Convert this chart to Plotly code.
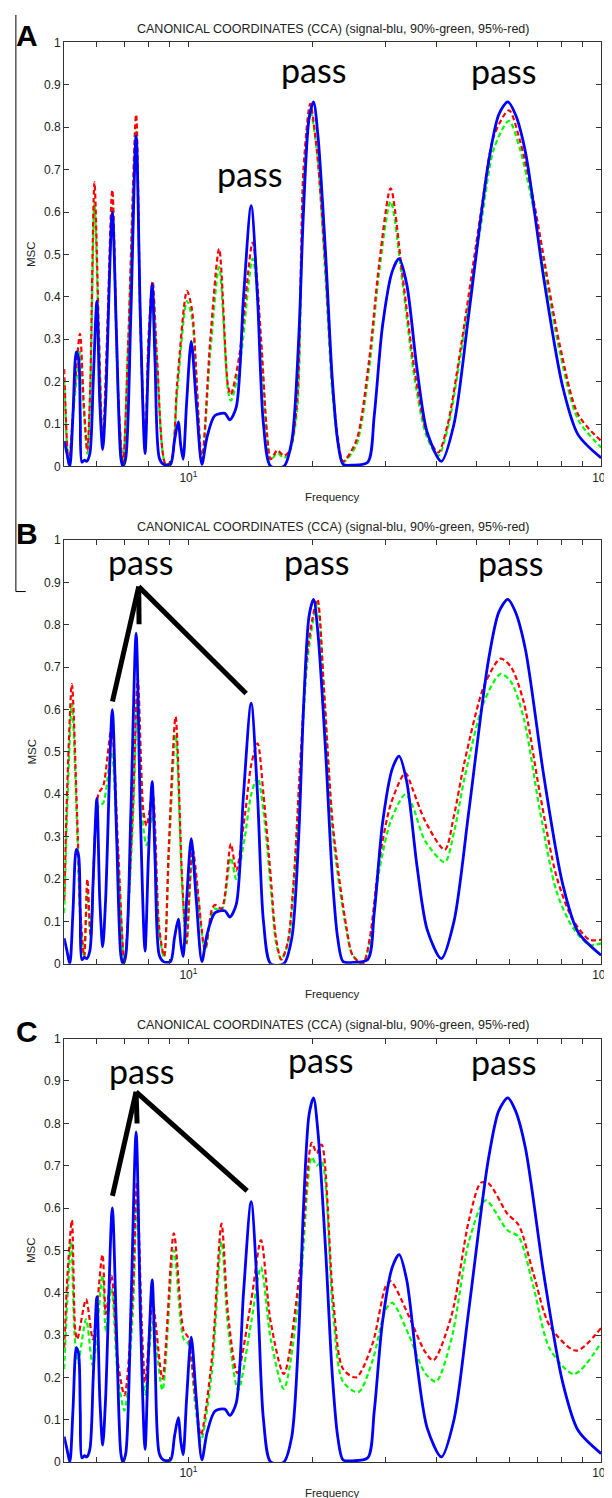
import plotly.graph_objects as go

W, H = 612, 1498

# signal (blue) - the same curve in all three panels
sig_f = [5.00, 5.08, 5.16, 5.25, 5.35, 5.42, 5.47, 5.52, 5.60, 5.67, 5.77, 5.88, 6.00, 6.10, 6.20,
         6.30, 6.54, 6.70, 6.86, 6.94, 7.05, 7.25, 7.47, 7.65, 7.85, 8.00, 8.17, 8.30, 8.50, 8.70,
         9.05, 9.25, 9.45, 9.58, 9.71, 9.90, 10.16, 10.45, 10.78, 11.1, 11.59, 12.25, 12.6, 13.06,
         13.6, 14.19, 14.7, 15.2, 15.83, 17.03, 17.8, 18.5, 19.0, 19.6, 20.1, 20.6, 21.5, 22.3,
         23.0, 23.7, 25.0, 27.2, 28.2, 29.52, 31.18, 32.4, 33.8, 35.8, 37.9, 41.0, 44.0, 47.8, 53.2,
         56.5, 59.4, 62.0, 65.6, 72.7, 80.6, 87.9, 100]
sig_v = [0.06, 0.03, 0.0, 0.12, 0.27, 0.255, 0.12, 0.01, 0.015, 0.012, 0.03, 0.2, 0.39, 0.15, 0.04,
         0.15, 0.60, 0.3, 0.02, 0.0, 0.02, 0.35, 0.78, 0.35, 0.03, 0.25, 0.43, 0.25, 0.02, 0.005,
         0.005, 0.06, 0.105, 0.05, 0.017, 0.15, 0.295, 0.15, 0.005, 0.07, 0.12, 0.125, 0.11, 0.14,
         0.4, 0.615, 0.4, 0.1, 0.0, 0.0, 0.06, 0.3, 0.6, 0.82, 0.86, 0.78, 0.5, 0.21,
         0.06, 0.005, 0.003, 0.01, 0.12, 0.33, 0.46, 0.49, 0.43, 0.23, 0.08, 0.012, 0.1, 0.36, 0.71,
         0.83, 0.86, 0.83, 0.74, 0.44, 0.19, 0.075, 0.02]

# panel A thresholds
a_red_f = [5.00, 5.13, 5.30, 5.46, 5.58, 5.69, 5.78, 5.92, 6.06, 6.20, 6.35, 6.54, 6.75, 6.94, 7.15,
           7.47, 7.65, 7.86, 8.00, 8.19, 8.40, 8.81, 9.06, 9.40, 9.92, 10.2, 10.78, 11.3, 11.87,
           12.47, 12.67, 13.28, 14.31, 15.0, 15.5, 15.83, 16.42, 17.03, 17.6, 18.33, 19.0, 19.73,
           20.5, 21.5, 22.3, 23.0, 23.7, 25.5, 27.4, 29.0, 30.9, 32.95, 35.4, 37.8, 40.3, 42.5,
           45.8, 51.15, 55.0, 59.8, 63.5, 68.5, 79.4, 88.0, 100]
a_red_v = [0.23, 0.005, 0.18, 0.313, 0.146, 0.037, 0.18, 0.67, 0.34, 0.056, 0.3, 0.652, 0.185, 0.005, 0.3,
           0.83, 0.34, 0.05, 0.3, 0.437, 0.25, 0.005, 0.01, 0.2, 0.414, 0.37, 0.017, 0.3, 0.513,
           0.19, 0.17, 0.26, 0.528, 0.3, 0.08, 0.017, 0.038, 0.025, 0.038, 0.15, 0.7, 0.855,
           0.74, 0.46, 0.2, 0.07, 0.012, 0.06, 0.25, 0.48, 0.656, 0.457, 0.22, 0.08, 0.033, 0.1,
           0.286, 0.6, 0.78, 0.84, 0.77, 0.63, 0.286, 0.122, 0.06]
a_grn_f = a_red_f
a_grn_v = [0.2, 0.005, 0.16, 0.27, 0.13, 0.03, 0.16, 0.62, 0.32, 0.05, 0.28, 0.61, 0.17, 0.005, 0.28,
           0.79, 0.32, 0.05, 0.28, 0.41, 0.23, 0.005, 0.01, 0.18, 0.39, 0.35, 0.015, 0.27, 0.47,
           0.18, 0.155, 0.23, 0.49, 0.28, 0.07, 0.015, 0.032, 0.02, 0.035, 0.13, 0.66, 0.84,
           0.74, 0.44, 0.18, 0.06, 0.01, 0.05, 0.23, 0.46, 0.625, 0.44, 0.2, 0.07, 0.025, 0.09,
           0.27, 0.57, 0.75, 0.815, 0.75, 0.61, 0.27, 0.11, 0.045]

# panel B thresholds
b_red_f = [5.00, 5.10, 5.22, 5.37, 5.47, 5.59, 5.69, 5.80, 6.05, 6.22, 6.51, 6.75, 7.00, 7.33, 7.54,
           7.78, 7.92, 8.19, 8.49, 8.73, 8.97, 9.31, 9.65, 9.89, 10.24, 10.97, 11.39, 11.59, 12.03,
           12.67, 13.06, 13.7, 14.2, 14.71, 15.2, 15.83, 16.3, 16.79, 17.4, 18.0, 18.67, 19.5,
           20.53, 21.3, 22.42, 24.13, 25.0, 26.45, 27.5, 29.0, 31.0, 33.55, 35.0, 37.45, 41.8,
           44.0, 46.7, 52.1, 57.09, 60.5, 64.9, 71.1, 78.0, 85.4, 93.6, 100]
b_red_v = [0.15, 0.45, 0.66, 0.36, 0.127, 0.018, 0.2, 0.065, 0.40, 0.42, 0.556, 0.28, 0.002, 0.36, 0.673,
           0.36, 0.326, 0.4, 0.088, 0.018, 0.283, 0.583, 0.205, 0.049, 0.27, 0.034, 0.127, 0.139, 0.13,
           0.283, 0.22, 0.35, 0.47, 0.52, 0.4, 0.205, 0.06, 0.01, 0.05, 0.2, 0.478, 0.75,
           0.86, 0.65, 0.32, 0.088, 0.02, 0.0, 0.06, 0.244, 0.38, 0.45, 0.41, 0.337, 0.269,
           0.35, 0.478, 0.657, 0.72, 0.7, 0.618, 0.4, 0.205, 0.104, 0.057, 0.057]
b_grn_f = b_red_f
b_grn_v = [0.12, 0.4, 0.614, 0.33, 0.11, 0.015, 0.17, 0.06, 0.37, 0.38, 0.50, 0.25, 0.002, 0.33, 0.63,
           0.32, 0.28, 0.35, 0.075, 0.015, 0.26, 0.54, 0.19, 0.045, 0.25, 0.03, 0.12, 0.13, 0.125,
           0.25, 0.2, 0.3, 0.4, 0.44, 0.36, 0.18, 0.05, 0.01, 0.045, 0.18, 0.45, 0.73,
           0.85, 0.64, 0.30, 0.08, 0.02, 0.0, 0.05, 0.22, 0.34, 0.40, 0.37, 0.29, 0.24,
           0.31, 0.44, 0.62, 0.684, 0.665, 0.58, 0.36, 0.17, 0.085, 0.045, 0.048]

# panel C thresholds
c_red_f = [5.00, 5.10, 5.22, 5.32, 5.38, 5.65, 5.87, 6.19, 6.31, 6.51, 6.75, 7.00, 7.33, 7.50, 7.72,
           7.86, 8.19, 8.65, 9.22, 9.74, 9.99, 10.38, 10.72, 11.39, 12.03, 12.47, 13.13, 14.19,
           14.99, 15.83, 17.03, 18.67, 19.9, 20.45, 21.03, 22.42, 23.69, 25.5, 27.94, 30.06, 30.9,
           34.2, 37.45, 39.2, 43.37, 47.8, 51.15, 53.5, 59.2, 63.1, 68.5, 75.14, 87.0, 100]
c_red_v = [0.27, 0.45, 0.571, 0.31, 0.29, 0.384, 0.29, 0.49, 0.35, 0.44, 0.235, 0.158, 0.39, 0.66, 0.31,
           0.19, 0.376, 0.197, 0.54, 0.31, 0.294, 0.158, 0.064, 0.24, 0.563, 0.35, 0.21, 0.38,
           0.524, 0.33, 0.208, 0.46, 0.754, 0.73, 0.75, 0.384, 0.22, 0.2, 0.28, 0.415, 0.427,
           0.345, 0.26, 0.24, 0.345, 0.57, 0.66, 0.657, 0.587, 0.56, 0.446, 0.321, 0.263, 0.317]
c_grn_f = [5.00, 5.10, 5.20, 5.30, 5.40, 5.65, 5.87, 6.19, 6.31, 6.51, 6.75, 7.00, 7.33, 7.50, 7.72,
           7.86, 8.19, 8.65, 9.22, 9.74, 9.99, 10.38, 10.72, 11.39, 12.03, 12.47, 13.2, 14.19,
           14.99, 15.83, 17.03, 18.67, 19.9, 20.45, 21.03, 22.42, 23.69, 25.8, 27.94, 30.06, 31.2,
           34.2, 37.45, 39.8, 43.37, 47.8, 52.5, 59.2, 63.1, 68.5, 75.14, 86.0, 100]
c_grn_v = [0.22, 0.4, 0.52, 0.3, 0.235, 0.337, 0.228, 0.44, 0.31, 0.41, 0.2, 0.122, 0.35, 0.61, 0.28,
           0.16, 0.33, 0.17, 0.5, 0.29, 0.28, 0.14, 0.05, 0.21, 0.52, 0.32, 0.17, 0.33,
           0.46, 0.29, 0.173, 0.42, 0.72, 0.70, 0.71, 0.35, 0.19, 0.165, 0.24, 0.36, 0.376,
           0.3, 0.21, 0.19, 0.29, 0.52, 0.618, 0.548, 0.532, 0.415, 0.267, 0.208, 0.282]

panels = [
    ("A", a_grn_f, a_grn_v, a_red_f, a_red_v),
    ("B", b_grn_f, b_grn_v, b_red_f, b_red_v),
    ("C", c_grn_f, c_grn_v, c_red_f, c_red_v),
]

title_txt = "CANONICAL COORDINATES (CCA) (signal-blu, 90%-green, 95%-red)"
x_ticks = [5, 6, 7, 8, 9, 10, 20, 30, 40, 50, 60, 70, 80, 90, 100]
x_text = ["10<sup>1</sup>" if t == 10 else "10<sup>2</sup>" if t == 100 else "" for t in x_ticks]
y_ticks = [i / 10 for i in range(11)]
y_text = ["0", "0.1", "0.2", "0.3", "0.4", "0.5", "0.6", "0.7", "0.8", "0.9", "1"]

# pixel boxes of the three plot areas (top, bottom)
boxes = [(27.7, 455.7), (530.0, 957.7), (1033.3, 1460.7)]
x_left, x_right = 57, 602


def px(x):
    return x / W


def py(y):
    return 1 - y / H


fig = go.Figure()
layout = dict(width=W, height=H, margin=dict(l=0, r=0, t=0, b=0),
              paper_bgcolor="white", plot_bgcolor="white", showlegend=False)
annotations = []
shapes = []
dash = "5px,3px"

for i, (letter, gf, gv, rf, rv) in enumerate(panels):
    n = "" if i == 0 else str(i + 1)
    xa, ya = "x" + n, "y" + n
    fig.add_trace(go.Scatter(x=gf, y=gv, xaxis=xa, yaxis=ya, mode="lines",
                             line=dict(color="#00ff00", width=2.2, dash=dash, shape="spline", smoothing=0.8)))
    fig.add_trace(go.Scatter(x=rf, y=rv, xaxis=xa, yaxis=ya, mode="lines",
                             line=dict(color="#ff0000", width=2.2, dash=dash, shape="spline", smoothing=0.8)))
    fig.add_trace(go.Scatter(x=sig_f, y=sig_v, xaxis=xa, yaxis=ya, mode="lines",
                             line=dict(color="#0000ff", width=2.8, shape="spline", smoothing=0.8)))
    top, bot = boxes[i]
    layout["xaxis" + n] = dict(
        type="log", range=[0.69897, 2], domain=[px(x_left), px(x_right)], anchor=ya,
        showline=True, mirror="ticks", linecolor="#333333", linewidth=1,
        ticks="inside", ticklen=5, tickcolor="#333333",
        tickvals=x_ticks, ticktext=x_text, showgrid=False, zeroline=False,
        tickfont=dict(family="Liberation Sans, Arial", size=12, color="#222222"))
    layout["yaxis" + n] = dict(
        range=[0, 1], domain=[py(bot), py(top)], anchor=xa,
        showline=True, mirror="ticks", linecolor="#333333", linewidth=1,
        ticks="inside", ticklen=5, tickcolor="#333333",
        tickvals=y_ticks, ticktext=y_text, showgrid=False, zeroline=False,
        tickfont=dict(family="Liberation Sans, Arial", size=12, color="#222222"))
    mid = (x_left + x_right) / 2
    annotations.append(dict(text=title_txt, x=px(mid), y=py(top - 13.5), xref="paper", yref="paper",
                            showarrow=False, xanchor="center", yanchor="middle",
                            font=dict(family="Liberation Sans, Arial", size=12.5, color="#222222")))
    annotations.append(dict(text="Frequency", x=px(mid), y=py(bot + 31), xref="paper", yref="paper",
                            showarrow=False, xanchor="center", yanchor="middle",
                            font=dict(family="Liberation Sans, Arial", size=11.5, color="#222222")))
    annotations.append(dict(text="MSC", x=px(24), y=py((top + bot) / 2), xref="paper", yref="paper",
                            showarrow=False, textangle=-90, xanchor="center", yanchor="middle",
                            font=dict(family="Liberation Sans, Arial", size=11.5, color="#222222")))
    annotations.append(dict(text="<b>" + letter + "</b>", x=px(19), y=py(top - 7), xref="paper", yref="paper",
                            showarrow=False, xanchor="center", yanchor="middle",
                            font=dict(family="Liberation Sans, Arial", size=30, color="black")))

# "pass" labels: (x centre, baseline) in pixels
pass_pos = [(245, 177), (310, 72), (503, 73),
            (134, 569), (313, 569), (510, 570),
            (135, 1082), (317, 1071), (503, 1073)]
for (x, y) in pass_pos:
    annotations.append(dict(text="pass", x=px(x), y=py(y - 17), xref="paper", yref="paper",
                            showarrow=False, xanchor="center", yanchor="middle",
                            font=dict(family="Lato", size=34, color="black")))

# fork lines linking the "pass" labels to the peaks in B and C
forks = [((132.7, 577), [(106, 693), (133, 615), (241.7, 685)]),
         ((130, 1087), [(106, 1192), (131, 1119), (242.7, 1187)])]
for apex, ends in forks:
    for e in ends:
        shapes.append(dict(type="line", xref="paper", yref="paper",
                           x0=px(apex[0]), y0=py(apex[1]), x1=px(e[0]), y1=py(e[1]),
                           line=dict(color="black", width=5)))

# figure border leftover on the left
shapes.append(dict(type="line", xref="paper", yref="paper", x0=px(8), y0=py(0), x1=px(8), y1=py(582),
                   line=dict(color="black", width=1)))
shapes.append(dict(type="line", xref="paper", yref="paper", x0=px(8), y0=py(582), x1=px(18), y1=py(582),
                   line=dict(color="black", width=1)))

layout["annotations"] = annotations
layout["shapes"] = shapes
fig.update_layout(**layout)
fig.write_html("out.html")
